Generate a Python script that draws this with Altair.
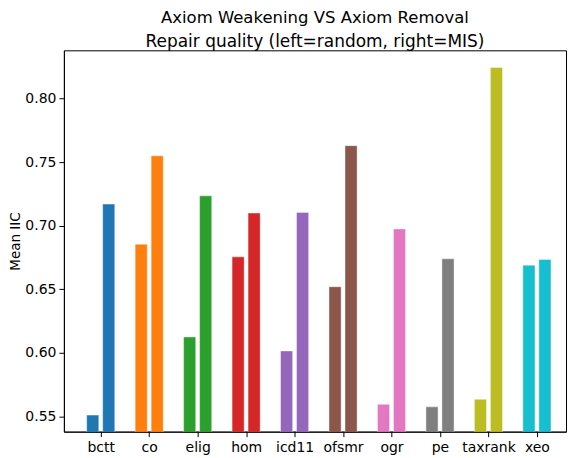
import altair as alt
import pandas as pd

categories = ["bctt", "co", "elig", "hom", "icd11", "ofsmr", "ogr", "pe", "taxrank", "xeo"]
random_iic = [0.551, 0.6855, 0.6125, 0.6755, 0.6015, 0.652, 0.5595, 0.5575, 0.5635, 0.669]
mis_iic = [0.717, 0.755, 0.7235, 0.710, 0.7105, 0.763, 0.6975, 0.674, 0.8245, 0.6735]
colors = ["#1f77b4", "#ff7f0e", "#2ca02c", "#d62728", "#9467bd",
          "#8c564b", "#e377c2", "#7f7f7f", "#bcbd22", "#17becf"]
y_ticks = [0.55, 0.60, 0.65, 0.70, 0.75, 0.80]

rows = []
for i, c in enumerate(categories):
    rows.append({"cat": c, "idx": i, "side": "random", "v": random_iic[i]})
    rows.append({"cat": c, "idx": i, "side": "MIS", "v": mis_iic[i]})
df = pd.DataFrame(rows)

FONT = "DejaVu Sans"
label_expr = "[" + ",".join("'%s'" % c for c in categories) + "][datum.value]"

chart = alt.Chart(df).transform_calculate(
    x0="datum.idx + (datum.side == 'random' ? -0.29 : 0.04)",
    x1="datum.idx + (datum.side == 'random' ? -0.04 : 0.29)",
    base="0",
).mark_bar(clip=True, stroke="white", strokeWidth=0.7, strokeOpacity=0.6).encode(
    x=alt.X("x0:Q",
            scale=alt.Scale(domain=[-0.76, 9.6], nice=False, zero=False),
            axis=alt.Axis(values=list(range(len(categories))), labelExpr=label_expr,
                          title=None, grid=False)),
    x2="x1:Q",
    y=alt.Y("v:Q",
            scale=alt.Scale(domain=[0.538, 0.838], nice=False, zero=False),
            axis=alt.Axis(values=y_ticks, format=".2f", title="Mean IIC", grid=False)),
    y2="base:Q",
    color=alt.Color("cat:N", scale=alt.Scale(domain=categories, range=colors), legend=None),
).properties(
    width=503,
    height=382,
    autosize=alt.AutoSizeParams(type="none"),
    padding={"left": 56, "top": 42, "right": 2, "bottom": 24},
    title=alt.TitleParams(
        text="Axiom Weakening VS Axiom Removal",
        subtitle="Repair quality (left=random, right=MIS)",
        font=FONT, fontSize=16.5, fontWeight="normal", color="#000000",
        subtitleFont=FONT, subtitleFontSize=17, subtitleColor="#000000",
        subtitlePadding=8, anchor="middle", offset=0,
    ),
).configure_view(
    stroke="#000000", strokeWidth=1
).configure_axis(
    labelFont=FONT, labelFontSize=14, labelColor="#000000",
    titleFont=FONT, titleFontSize=13.5, titleFontWeight="normal", titleColor="#000000",
    domainColor="#000000", tickColor="#000000", tickSize=5, labelPadding=4,
    domainWidth=1, tickWidth=1,
).configure_axisY(titlePadding=2, labelPadding=3)

chart.save("out.html", embed_options={"renderer": "svg", "actions": False})
